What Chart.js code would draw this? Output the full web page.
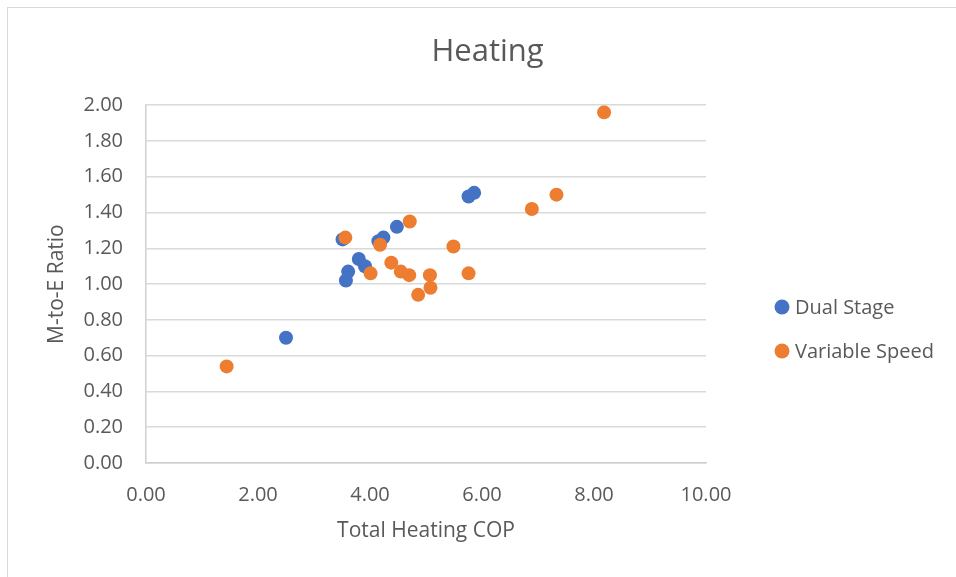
<!DOCTYPE html>
<html>
<head>
<meta charset="utf-8">
<title>Heating</title>
<script src="https://cdn.jsdelivr.net/npm/chart.js@4/dist/chart.umd.min.js"></script>
<style>
    html, body { margin: 0; padding: 0; background: #fff; }
    #moldura {
        position: absolute; left: 7px; top: 7px;
        width: 970px; height: 590px;
        border: 1px solid #d9d9d9;
    }
    #caixa { position: absolute; left: 0; top: 0; width: 956px; height: 577px; }
</style>
</head>
<body>
<div id="moldura"></div>
<div id="caixa"><canvas id="grafico"></canvas></div>
<script>
// Valores (COP x razão M-to-E)
const dualStageCop   = [2.50, 3.51, 3.57, 3.61, 3.80, 3.91, 4.15, 4.24, 4.48, 5.76, 5.86];
const dualStageRatio = [0.70, 1.25, 1.02, 1.07, 1.14, 1.10, 1.24, 1.26, 1.32, 1.49, 1.51];

const variableSpeedCop   = [1.44, 3.56, 4.01, 4.18, 4.38, 4.55, 4.70, 4.71, 4.86, 5.07, 5.08, 5.49, 5.76, 6.89, 7.33, 8.18];
const variableSpeedRatio = [0.54, 1.26, 1.06, 1.22, 1.12, 1.07, 1.05, 1.35, 0.94, 1.05, 0.98, 1.21, 1.06, 1.42, 1.50, 1.96];

const seriesNames = ['Dual Stage', 'Variable Speed'];
const xTicks = [0, 2, 4, 6, 8, 10];
const yTicks = [0, 0.2, 0.4, 0.6, 0.8, 1.0, 1.2, 1.4, 1.6, 1.8, 2.0];

const FONTE = "'Open Sans', 'DejaVu Sans', sans-serif";
const CINZA = '#595959';

function pontos(xs, ys) {
    return xs.map((x, i) => ({ x: x, y: ys[i] }));
}

// legenda desenhada à direita, como no Excel
const legendaLateral = {
    id: 'legendaLateral',
    afterDraw(chart) {
        const ctx = chart.ctx;
        const linhas = [307, 351];
        ctx.save();
        ctx.font = '20px ' + FONTE;
        ctx.textBaseline = 'middle';
        chart.data.datasets.forEach((ds, i) => {
            ctx.fillStyle = ds.backgroundColor;
            ctx.beginPath();
            ctx.arc(782, linhas[i], 7.5, 0, Math.PI * 2);
            ctx.fill();
            ctx.fillStyle = CINZA;
            ctx.fillText(ds.label, 795, linhas[i] + 1);
        });
        ctx.restore();
    }
};

const ctx = document.getElementById('grafico').getContext('2d');
new Chart(ctx, {
    type: 'scatter',
    data: {
        datasets: [
            {
                label: seriesNames[0],
                data: pontos(dualStageCop, dualStageRatio),
                backgroundColor: '#4472C4',
                borderColor: '#4472C4',
                pointRadius: 7,
                pointHoverRadius: 7,
                borderWidth: 0,
                order: 1
            },
            {
                label: seriesNames[1],
                data: pontos(variableSpeedCop, variableSpeedRatio),
                backgroundColor: '#ED7D31',
                borderColor: '#ED7D31',
                pointRadius: 7,
                pointHoverRadius: 7,
                borderWidth: 0,
                order: 0
            }
        ]
    },
    options: {
        responsive: true,
        maintainAspectRatio: false,
        animation: false,
        layout: { padding: { left: 19, right: 0, top: 0, bottom: 0 } },
        plugins: {
            legend: { display: false },
            tooltip: { enabled: false },
            title: {
                display: true,
                text: 'Heating',
                color: CINZA,
                font: { family: FONTE, size: 31, weight: 'normal', lineHeight: 1.2 },
                padding: { top: 34, bottom: 34 }
            }
        },
        scales: {
            x: {
                type: 'linear',
                min: xTicks[0],
                max: xTicks[xTicks.length - 1],
                afterBuildTicks: s => { s.ticks = xTicks.map(v => ({ value: v })); },
                afterFit: s => { s.height = 114; },
                grid: { display: false, drawTicks: false },
                border: { display: true, color: '#d0d0d0', width: 1.5 },
                ticks: {
                    color: CINZA,
                    padding: 20,
                    font: { family: FONTE, size: 20 },
                    callback: v => Number(v).toFixed(2)
                },
                title: {
                    display: true,
                    text: 'Total Heating COP',
                    color: CINZA,
                    font: { family: FONTE, size: 21, lineHeight: 1.2 },
                    padding: { top: 0, bottom: 33 }
                }
            },
            y: {
                type: 'linear',
                min: yTicks[0],
                max: yTicks[yTicks.length - 1],
                afterBuildTicks: s => { s.ticks = yTicks.map(v => ({ value: v })); },
                afterFit: s => { s.width = 127; },
                grid: { color: '#dadada', lineWidth: 1.5, drawTicks: false },
                border: { display: true, color: '#d0d0d0', width: 1.5 },
                ticks: {
                    color: CINZA,
                    padding: 23,
                    font: { family: FONTE, size: 20 },
                    callback: v => Number(v).toFixed(2)
                },
                title: {
                    display: true,
                    text: 'M-to-E Ratio',
                    color: CINZA,
                    font: { family: FONTE, size: 21, lineHeight: 1.2 },
                    padding: { top: 25, bottom: 0 }
                }
            },
            // eixo vazio à direita só para reservar o espaço da legenda
            lado: {
                type: 'linear',
                position: 'right',
                afterFit: s => { s.width = 250; },
                grid: { display: false, drawTicks: false },
                border: { display: false },
                ticks: { display: false }
            }
        }
    },
    plugins: [legendaLateral]
});
</script>
</body>
</html>
